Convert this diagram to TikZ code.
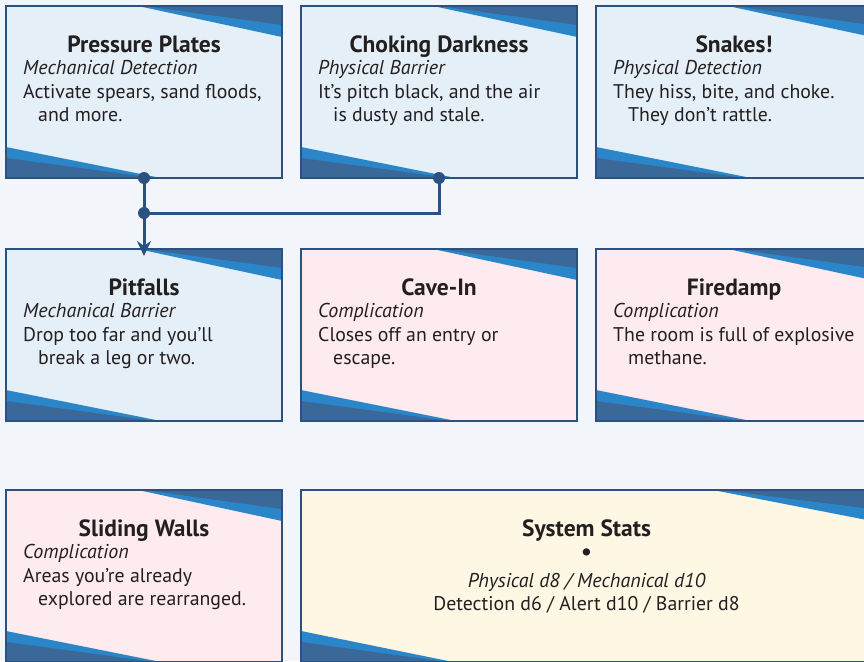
\documentclass[tikz,border=0pt]{standalone}
\usepackage{fontspec}
\setmainfont{PT Sans}
\usetikzlibrary{calc,arrows.meta}
\definecolor{bg}{HTML}{F2F5F9}
\definecolor{cardblue}{HTML}{E4EFF7}
\definecolor{cardpink}{HTML}{FDEBEF}
\definecolor{cardcream}{HTML}{FEF7E4}
\definecolor{edge}{HTML}{2A5182}
\definecolor{decodark}{HTML}{3A6898}
\definecolor{decolight}{HTML}{2A86C9}
\definecolor{ink}{HTML}{231F20}
\tikzset{
 card/.style={rectangle, anchor=north west, minimum width=276pt, minimum height=172pt, inner sep=0pt, outer sep=0pt},
 frame/.style={draw=edge, line width=2pt},
 ttl/.style={anchor=base, inner sep=0pt, text=ink, font=\fontsize{23.5}{26}\selectfont\bfseries},
 sub/.style={anchor=base west, inner sep=0pt, text=ink, font=\fontsize{20}{23}\selectfont\itshape},
 body/.style={anchor=base west, inner sep=0pt, text=ink, font=\fontsize{19.8}{23}\selectfont},
 cbody/.style={anchor=base, inner sep=0pt, text=ink, font=\fontsize{19.8}{23}\selectfont},
 conn/.style={draw=edge, line width=3pt},
 dot/.style={fill=edge},
}
\newcommand\deco[3]{%
 \fill[decolight] ($(#1.north east)+(-#2,0)$) -- (#1.north east) -- ($(#1.north east)+(0,31)$) -- cycle;
 \fill[decodark] ($(#1.north east)+(-#2+6,0)$) -- (#1.north east) -- ($(#1.north east)+(0,19)$) -- cycle;
 \fill[decolight] ($(#1.south west)+(0,-31)$) -- ($(#1.south west)+(#3,0)$) -- (#1.south west) -- cycle;
 \fill[decodark] ($(#1.south west)+(0,-20)$) -- ($(#1.south west)+(#3-6,0)$) -- (#1.south west) -- cycle;
 \draw[frame] (#1.north west) rectangle (#1.south east);
}
\newcommand\mkcard[8]{%
 \node[card, fill=#4] (#1) at (#2,#3) {};
 \deco{#1}{144}{155}
 \node[ttl] (#1-t) at ($(#1.north)+(0,46.3)$) {#5};
 \node[sub] (#1-s) at ($(#1.north west)+(17,68.8)$) {#6};
 \node[body] (#1-a) at ($(#1.north west)+(17,92.3)$) {#7};
 \node[body] (#1-b) at ($(#1.north west)+(32,115.3)$) {#8};
}
\begin{document}
\begin{tikzpicture}[x=1pt,y=-1pt]
\fill[bg] (0,0) rectangle (864,661);
\useasboundingbox (0,0) rectangle (864,661);
\clip (0,0) rectangle (864,661);
\mkcard{pp}{6}{6}{cardblue}{Pressure Plates}{Mechanical Detection}{Activate spears, sand floods,}{and more.}
\mkcard{cd}{301}{6}{cardblue}{Choking Darkness}{Physical Barrier}{It’s pitch black, and the air}{is dusty and stale.}
\mkcard{sn}{596}{6}{cardblue}{Snakes!}{Physical Detection}{They hiss, bite, and choke.}{They don’t rattle.}
\mkcard{pit}{6}{249}{cardblue}{Pitfalls}{Mechanical Barrier}{Drop too far and you’ll}{break a leg or two.}
\mkcard{ci}{301}{249}{cardpink}{Cave-In}{Complication}{Closes off an entry or}{escape.}
\mkcard{fd}{596}{249}{cardpink}{Firedamp}{Complication}{The room is full of explosive}{methane.}
\mkcard{sw}{6}{490}{cardpink}{Sliding Walls}{Complication}{Areas you’re already}{explored are rearranged.}
\node[card, minimum width=571pt, fill=cardcream] (st) at (301,490) {};
\deco{st}{159}{152}
\node[ttl] (st-t) at ($(st.north)+(0,46)$) {System Stats};
\node[cbody, font=\fontsize{26}{28}\selectfont] (st-d) at ($(st.north)+(0,70)$) {•};
\node[cbody, font=\fontsize{20}{23}\selectfont\itshape] (st-a) at ($(st.north)+(0,97)$) {Physical d8 / Mechanical d10};
\node[cbody] (st-b) at ($(st.north)+(0,120)$) {Detection d6 / Alert d10 / Barrier d8};
\coordinate (j) at ($(pp.south)+(0,35)$);
\draw[conn] (cd.south) |- (j);
\draw[conn, -{Stealth[length=15pt,width=14pt,inset=5pt]}, shorten >=-7pt] (pp.south) -- (pit.north);
\fill[dot] (pp.south) circle (6pt);
\fill[dot] (cd.south) circle (6pt);
\fill[dot] (j) circle (6pt);
\end{tikzpicture}
\end{document}
